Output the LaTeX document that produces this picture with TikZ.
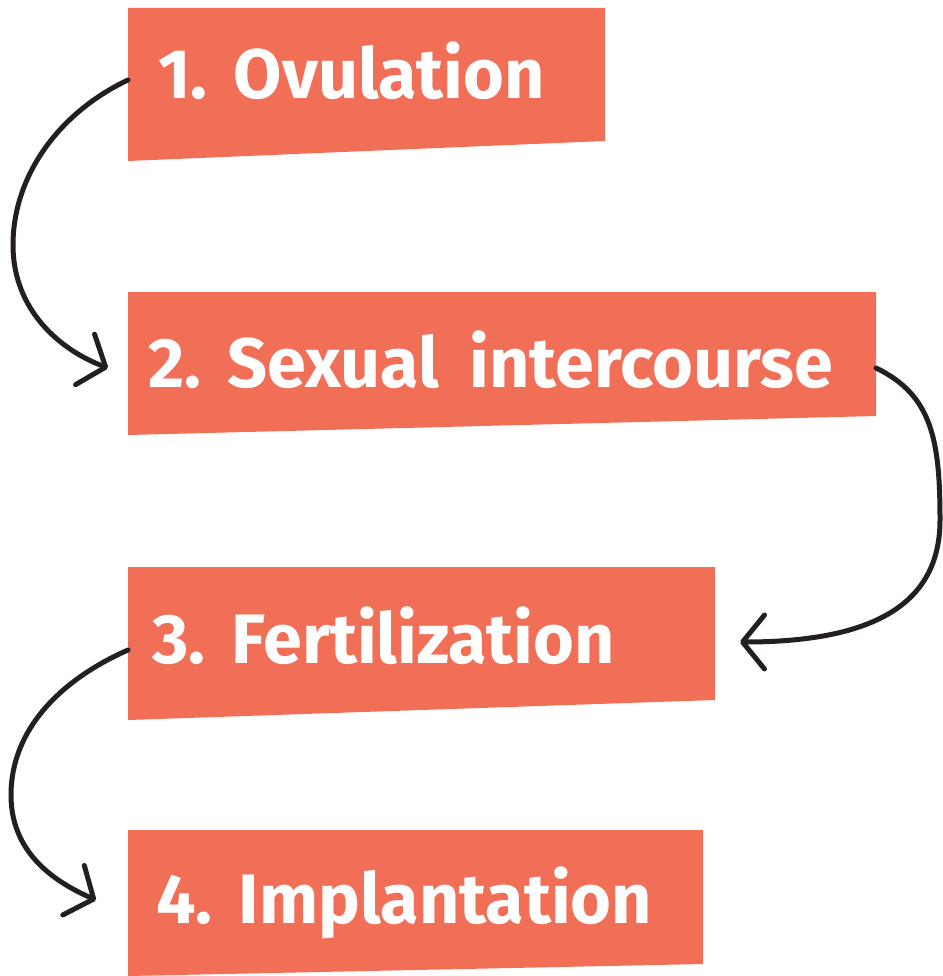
\documentclass[tikz,border=0pt]{standalone}
\usepackage{fontspec}
\usepackage{tikz}
\usetikzlibrary{arrows.meta}
\newfontfamily\stepfont{Fira Sans}[FakeStretch=1.0,WordSpace=1.25]
\definecolor{salmon}{HTML}{F26F57}
\definecolor{ink}{HTML}{231F20}
\begin{document}
\begin{tikzpicture}[x=1pt,y=-1pt,
 band/.style={fill=salmon},
 lbl/.style={text=white,anchor=base west,inner sep=0pt,font=\stepfont\bfseries\fontsize{70}{70}\selectfont},
 a/.style={-{Straight Barb[length=22pt,width=54pt,round]},draw=ink,line width=5pt,line cap=round}]
\useasboundingbox (0,0) rectangle (942,976);
% boxes
\fill[band] (128,8) -- (605,8) -- (605,141) -- (128,161) -- cycle;
\fill[band] (128,292) -- (876,292) -- (876,416) -- (128,435) -- cycle;
\fill[band] (128,567) -- (715,567) -- (715,700) -- (128,720) -- cycle;
\fill[band] (128,830) -- (703,830) -- (703,964) -- (128,976) -- cycle;
\node[lbl] (s1) at (158,99) {1. Ovulation};
\node[lbl] (s2) at (148,387) {2. Sexual\hspace{10pt} intercourse};
\node[lbl] (s3) at (152,663) {3. Fertilization};
\node[lbl] (s4) at (156,923) {4. Implantation};
% arrows
\coordinate (o1) at (128,80);  \coordinate (t1) at (108,368);
\coordinate (o2) at (876,368); \coordinate (t2) at (740,642);
\coordinate (o3) at (128,650); \coordinate (t3) at (96,900);
\draw[a] (o1) .. controls (60,112) and (13,175) .. (13,245) .. controls (13,310) and (60,350) .. (t1);
\draw[a] (o2) .. controls (932,395) and (940,440) .. (940,520) .. controls (940,600) and (880,642) .. (t2);
\draw[a] (o3) .. controls (60,680) and (11,730) .. (11,795) .. controls (11,850) and (50,880) .. (t3);
\end{tikzpicture}
\end{document}
